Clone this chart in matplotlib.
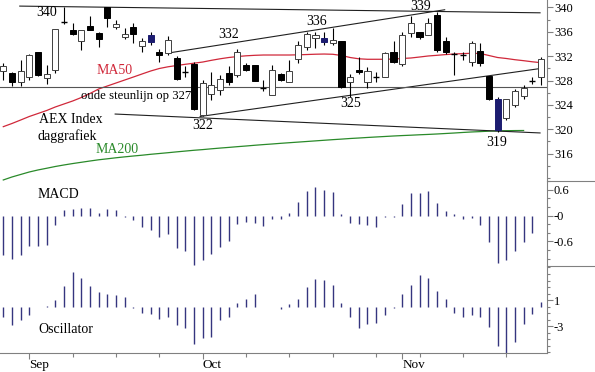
import matplotlib.pyplot as plt
import numpy as np
from matplotlib.lines import Line2D
from matplotlib.ticker import MultipleLocator, FixedLocator

plt.rcParams['font.family'] = ['Liberation Serif', 'DejaVu Serif']

# koersdata AEX (dagcandles)
opens = [329.6, 329.3, 327.8, 328.6, 332.6, 328.4, 329.7, 337.6, 336.3, 334.4,
         336.9, 335.8, 340.1, 336.7, 335.2, 336.8, 333.7, 335.5, 332.6, 332.5,
         331.7, 329.4, 330.7, 322.3, 325.8, 326.4, 329.2, 328.9, 330.5, 330.5,
         326.8, 325.7, 329.0, 327.8, 331.6, 333.5, 335.0, 335.0, 334.2, 334.4,
         327.7, 329.8, 327.8, 328.6, 328.6, 332.7, 330.7, 335.8, 335.9, 335.5,
         338.7, 334.5, 332.4, 332.2, 331.1, 332.9, 328.7, 324.9, 321.8, 324.0,
         325.5, 328.0, 328.6]
highs = [330.9, 329.4, 331.4, 332.3, 332.7, 330.5, 336.4, 340.0, 337.5, 336.3,
         338.5, 335.9, 340.1, 337.9, 336.6, 337.4, 334.9, 336.0, 333.1, 335.3,
         332.0, 330.3, 331.0, 328.1, 329.4, 328.9, 330.3, 333.1, 330.8, 330.6,
         328.1, 330.5, 329.2, 331.4, 334.4, 336.0, 336.0, 336.0, 336.6, 334.5,
         329.0, 331.8, 330.2, 329.4, 332.6, 334.4, 336.0, 338.5, 336.0, 338.2,
         339.3, 335.2, 332.7, 332.7, 334.5, 334.1, 328.8, 325.3, 325.0, 326.6,
         327.3, 328.5, 331.9]
lows = [328.1, 327.1, 327.1, 328.1, 328.8, 327.5, 329.2, 337.3, 335.5, 333.0,
        336.2, 333.5, 336.8, 336.5, 334.8, 334.2, 332.6, 333.9, 331.1, 332.2,
        328.1, 328.6, 323.2, 322.1, 324.8, 325.6, 327.3, 328.6, 329.5, 327.9,
        326.3, 325.6, 327.9, 327.7, 330.8, 333.0, 333.3, 333.9, 333.8, 326.7,
        325.3, 329.1, 326.7, 327.8, 328.5, 330.8, 330.3, 335.1, 334.8, 335.4,
        332.7, 332.3, 328.9, 331.4, 330.3, 330.3, 324.8, 319.6, 321.5, 323.6,
        324.9, 327.4, 327.3]
closes = [330.3, 327.8, 329.6, 332.1, 328.9, 329.0, 336.4, 337.6, 335.6, 336.3,
          336.3, 334.8, 338.2, 337.3, 335.6, 335.7, 334.4, 334.3, 332.1, 334.6,
          328.3, 329.4, 323.3, 327.6, 327.3, 328.2, 327.8, 332.7, 329.7, 328.0,
          326.8, 329.7, 328.1, 329.6, 333.8, 335.7, 335.5, 334.3, 334.6, 327.0,
          328.6, 329.4, 329.6, 328.6, 332.5, 331.0, 335.5, 337.5, 335.2, 337.4,
          333.0, 332.6, 332.2, 332.2, 334.2, 330.8, 324.9, 319.9, 324.9, 326.2,
          326.7, 328.0, 331.6]
blauw = [17, 37, 57]   # blauw gemarkeerde candles

ma50 = [320.43, 320.95, 321.52, 322.10, 322.59, 323.08, 323.66, 324.15, 324.64, 325.21,
        325.87, 326.61, 327.10, 327.59, 328.08, 328.57, 329.07, 329.56, 329.97, 330.25,
        330.46, 330.66, 330.84, 331.03, 331.31, 331.56, 331.77, 331.93, 332.05, 332.13,
        332.18, 332.18, 332.18, 332.18, 332.21, 332.26, 332.31, 332.34, 332.30, 332.10,
        331.77, 331.56, 331.48, 331.48, 331.48, 331.52, 331.61, 331.69, 331.85, 332.02,
        332.13, 332.25, 332.34, 332.41, 332.46, 332.43, 332.10, 331.77, 331.61, 331.41,
        331.25, 331.07, 330.92]
ma200 = [311.69, 312.18, 312.59, 313.00, 313.33, 313.61, 313.90, 314.15, 314.38, 314.59,
         314.80, 315.00, 315.16, 315.33, 315.48, 315.62, 315.75, 315.90, 316.03, 316.16,
         316.30, 316.43, 316.56, 316.67, 316.80, 316.92, 317.03, 317.15, 317.26, 317.38,
         317.49, 317.59, 317.70, 317.80, 317.90, 318.00, 318.10, 318.20, 318.30, 318.39,
         318.49, 318.57, 318.66, 318.74, 318.82, 318.90, 318.97, 319.03, 319.10, 319.16,
         319.23, 319.31, 319.39, 319.48, 319.56, 319.62, 319.69, 319.74, 319.77, 319.79,
         319.80]

macd = [-0.92, -1.00, -0.92, -0.70, -0.71, -0.68, -0.22, 0.13, 0.155, 0.17,
        0.17, 0.07, 0.15, 0.13, -0.03, -0.10, -0.26, -0.33, -0.50, -0.43,
        -0.74, -0.81, -1.15, -1.03, -0.88, -0.72, -0.59, -0.19, -0.14, -0.18,
        -0.23, -0.085, -0.085, 0.07, 0.31, 0.58, 0.67, 0.60, 0.56, 0.05,
        -0.16, -0.20, -0.22, -0.27, -0.04, -0.02, 0.27, 0.53, 0.52, 0.57,
        0.30, 0.12, 0.05, -0.085, -0.06, -0.22, -0.62, -1.09, -1.02, -0.81,
        -0.61, -0.40, 0.0]
oscillator = [-1.64, -2.77, -2.05, -1.28, -0.10, 0.15, 1.03, 3.23, 5.28, 4.41,
              3.23, 2.20, 1.95, 1.80, 1.44, -0.26, -0.97, -1.13, -1.90, -1.64,
              -2.92, -3.28, -5.74, -4.82, -4.72, -2.15, -1.54, 0.51, 1.18, 1.95,
              -0.05, -0.05, -0.36, 0.41, 1.18, 2.97, 4.26, 4.10, 3.33, 0.51,
              -1.64, -3.28, -2.67, -2.56, -1.38, -0.20, 1.95, 3.38, 4.77, 4.41,
              2.31, 1.18, -1.03, -1.64, -1.38, -1.64, -3.08, -6.15, -7.28, -5.49,
              -2.67, -1.13, 0.67]

# trendlijnen: (index, koers) begin- en eindpunt
weerstand = [(1.9, 340.2), (61.9, 339.1)]
bovenkanaal = [(19.0, 332.5), (50.9, 339.6)]
onderkanaal = [(22.7, 322.1), (62.1, 330.0)]
dalende_lijn = [(12.9, 322.5), (61.9, 319.4)]
steunlijn = 327.0

week_ticks = list(range(3, 63, 5))
maand_ticks = [3, 23, 46]
maanden = ['Sep', 'Oct', 'Nov']

n = len(closes)
x = np.arange(n)
W = 595
H = 372
fig = plt.figure(figsize=(5.95, 3.72), dpi=100)
rechts = 547 / W
ax1 = fig.add_axes([0, 1 - 180.7 / H, rechts, 180.7 / H])
ax2 = fig.add_axes([0, 1 - 266 / H, rechts, (266 - 180.7) / H])
ax3 = fig.add_axes([0, 1 - 353 / H, rechts, (353 - 266) / H])

for ax in (ax1, ax2, ax3):
    ax.set_xlim(-0.38, 62.7)
    for s in ('left', 'top', 'bottom'):
        ax.spines[s].set_visible(False)
    ax.spines['right'].set_color('#808080')
    ax.yaxis.tick_right()
    ax.tick_params(axis='y', which='major', direction='out', length=4, width=0.8,
                   color='#808080', labelsize=9, pad=1)
    ax.tick_params(axis='y', which='minor', direction='out', length=2, width=0.8,
                   color='#808080')
    ax.tick_params(axis='x', which='both', bottom=False, labelbottom=False)

# candles
bw = 0.7
for i in range(n):
    o, h, l, c = opens[i], highs[i], lows[i], closes[i]
    ax1.vlines(i, l, h, color='black', lw=0.8, zorder=2)
    if abs(c - o) < 0.2:
        ax1.hlines(o, i - bw / 2, i + bw / 2, color='black', lw=1.0, zorder=3)
        continue
    if i in blauw:
        fc, ec = '#1c1c70', '#1c1c70'
    elif c > o:
        fc, ec = 'white', '#404040'
    else:
        fc, ec = 'black', 'black'
    ax1.bar(i, abs(c - o), bottom=min(o, c), width=bw, color=fc, edgecolor=ec,
            linewidth=0.7, zorder=3)

ax1.plot(x, ma50, color='#d0283a', lw=0.9, zorder=1)
ax1.plot(np.arange(len(ma200)), ma200, color='#2a8a2a', lw=0.9, zorder=1)
for lijn in (weerstand, bovenkanaal, onderkanaal, dalende_lijn):
    ax1.plot([lijn[0][0], lijn[1][0]], [lijn[0][1], lijn[1][1]], color='#202020',
             lw=0.8, zorder=1)
ax1.axhline(steunlijn, color='#555555', lw=0.8, zorder=1)

ax1.set_ylim(311.57, 341.2)
ax1.set_yticks(np.arange(316, 341, 4))
ax1.yaxis.set_minor_locator(MultipleLocator(2))

fs = 10
ax1.text(5.0, 339.1, '340', fontsize=fs, ha='center', va='center')
ax1.text(26.0, 335.6, '332', fontsize=fs, ha='center', va='center')
ax1.text(36.1, 337.6, '336', fontsize=fs, ha='center', va='center')
ax1.text(48.1, 340.2, '339', fontsize=fs, ha='center', va='center')
ax1.text(23.0, 320.7, '322', fontsize=fs, ha='center', va='center')
ax1.text(40.1, 324.15, '325', fontsize=fs, ha='center', va='center')
ax1.text(56.9, 317.9, '319', fontsize=fs, ha='center', va='center')
ax1.text(9.0, 325.5, 'oude steunlijn op 327', fontsize=9.2, ha='left', va='center',
         zorder=5)
ax1.text(12.8, 329.6, 'MA50', fontsize=fs, color='#d0283a', ha='center', va='center')
ax1.text(4.1, 321.6, 'AEX Index', fontsize=fs, ha='left', va='center')
ax1.text(4.0, 318.95, 'daggrafiek', fontsize=fs, ha='left', va='center')
ax1.text(13.1, 316.7, 'MA200', fontsize=fs, color='#2a8a2a', ha='center', va='center')

# MACD histogram
ax2.vlines(x, 0, macd, color='#35357f', lw=1.0)
ax2.set_ylim(-1.17, 0.814)
ax2.set_yticks([0.6, 0, -0.6])
ax2.set_yticklabels(['0.6', '-0', '-0.6'])
ax2.yaxis.set_minor_locator(MultipleLocator(0.2))
ax2.text(4.0, 0.5, 'MACD', fontsize=fs, ha='left', va='center')

# oscillator
ax3.vlines(x, 0, oscillator, color='#35357f', lw=1.0)
ax3.set_ylim(-7.15, 6.23)
ax3.set_yticks([1, -3])
ax3.set_yticklabels(['1', '-3'])
ax3.yaxis.set_minor_locator(MultipleLocator(1))
ax3.text(4.0, -3.55, 'Oscillator', fontsize=fs, ha='left', va='center')

ax3.spines['bottom'].set_visible(True)
ax3.spines['bottom'].set_color('#808080')
ax3.set_xticks(maand_ticks)
ax3.set_xticklabels(maanden, ha='left', fontsize=9.5)
ax3.xaxis.set_minor_locator(FixedLocator(week_ticks))
ax3.tick_params(axis='x', which='major', bottom=True, labelbottom=True, direction='out',
                length=4, width=0.8, color='#808080', pad=0)
ax3.tick_params(axis='x', which='minor', bottom=True, direction='out', length=3,
                width=0.8, color='#808080')

# scheidingslijnen rechts van de as
for yy in (180.7, 266):
    fig.add_artist(Line2D([rechts, 1], [1 - yy / H, 1 - yy / H], transform=fig.transFigure,
                          color='#808080', lw=0.8))

fig.savefig('out.png', dpi=100)
